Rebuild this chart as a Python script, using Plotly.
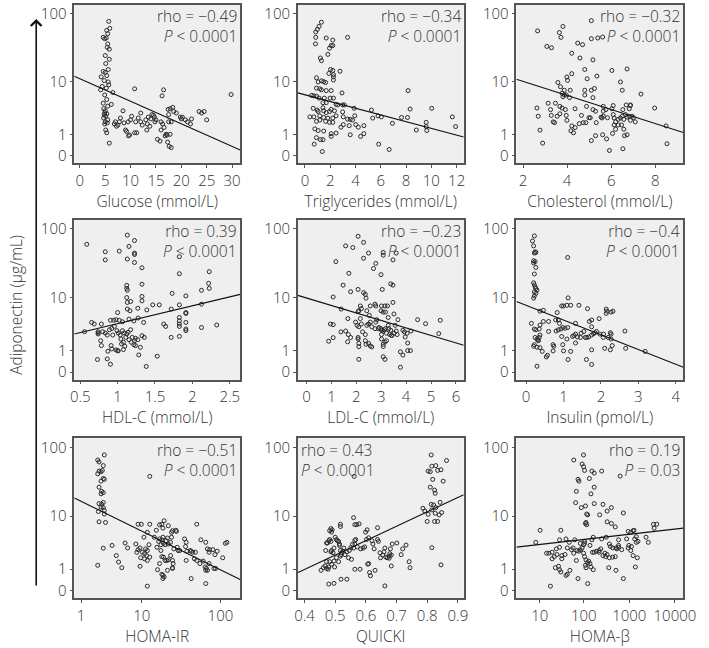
import numpy as np
import plotly.graph_objects as go

# ---------------- data (adiponectin in ug/mL) ----------------
glucose_x = [5.7,5.9,5.3,5.5,4.6,4.9,5.2,5.5,5.4,5.8,5.0,5.8,5.1,5.6,4.6,5.0,4.2,5.3,4.8,5.6,4.4,5.2,5.7,4.1,6.5,4.9,5.3,4.6,6.2,5.5,4.7,5.0,4.9,5.3,4.8,5.1,4.7,5.5,5.0,4.9,5.4,5.1,5.3,5.8,
             7.0,7.5,7.8,6.8,7.2,8.0,8.5,9.0,9.2,9.8,9.6,10.0,10.2,10.8,10.8,11.2,11.0,12.0,11.5,12.0,13.0,13.5,14.0,14.2,14.5,13.8,13.2,14.7,15.0,14.8,15.3,15.8,16.0,16.2,16.5,16.3,16.0,16.6,17.0,16.8,17.2,17.5,17.4,17.8,18.3,18.5,19.0,17.5,18.0,17.8,17.6,18.0,17.3,19.8,20.2,20.8,21.2,20.0,21.8,22.0,23.5,24.0,24.5,25.0,29.8,8.7,9.5,12.3,13.3]
glucose_adip = [78,62,58,52,46,44,45,37,33,31,25,22,19,15.5,14.5,14,12,12.5,10.5,10,8.5,8,9,7.5,6.8,6.2,5.2,4.5,4.3,4.0,3.6,3.3,3.0,2.9,2.8,2.6,2.4,2.2,2.0,1.8,1.9,1.3,1.1,0.5,
                2.0,1.7,2.0,1.8,1.6,2.4,3.3,1.3,1.2,0.95,0.9,2.2,2.6,7.8,1.1,1.1,2.0,3.0,2.4,2.0,2.2,2.5,2.3,2.8,2.7,1.6,1.3,2.5,2.2,2.0,0.7,0.6,2.0,6.0,7.5,1.8,1.3,1.5,1.0,0.9,0.95,2.8,3.5,3.6,3.8,3.2,3.0,2.0,2.0,1.0,0.35,0.3,0.55,2.5,2.5,2.2,2.0,2.3,1.8,2.3,3.2,3.0,3.2,2.2,6.3,1.9,2.0,1.7,1.8]
glucose_fit_x = [-1.1, 31.6]
glucose_fit_adip = [12.2, 0.2]

trig_x = [1.30,1.11,0.98,0.85,0.85,0.83,1.68,2.20,2.20,2.07,1.94,1.81,1.22,1.30,3.37,2.77,2.02,2.20,1.89,2.25,2.25,2.25,0.91,1.04,1.30,1.48,1.63,0.91,1.17,1.30,1.68,2.07,2.93,0.52,0.70,0.91,1.11,1.53,1.99,2.25,1.42,1.68,2.46,2.59,2.98,3.11,1.42,2.07,2.33,2.98,3.89,0.65,0.96,1.04,1.48,1.68,1.94,0.39,0.70,1.17,1.48,1.81,2.20,2.46,3.03,3.37,3.58,3.76,3.94,0.91,1.17,1.63,1.94,2.20,3.03,2.85,3.50,4.02,4.66,0.78,1.04,1.48,2.07,2.07,2.46,3.58,4.40,4.66,0.91,1.22,1.42,0.73,1.37,5.26,5.36,5.78,6.04,5.83,6.66,6.92,7.64,8.11,8.16,8.32,8.81,9.59,9.59,9.64,10.03,11.66,11.92,4.22]
trig_adip = [76,66,60,55,46,37,45,42,35,35,32,26,23,21,46,14.6,15.5,15,13.5,13,12,10.7,11.6,10,10.4,10.1,9.8,8,7.8,7.5,7.3,7.3,6.7,6.1,6.0,5.9,5.5,5.5,5.5,5.5,4.6,4.6,4.3,4.2,4.2,4.2,3.75,3.5,3.3,3.15,3.66,3.66,3.4,3.2,3.3,3.06,3.2,2.53,2.53,2.65,2.46,2.39,2.39,2.65,2.53,2.28,2.25,2.18,2.65,2.05,2.18,2.05,1.95,1.95,1.74,1.52,1.65,1.74,1.65,1.39,1.26,1.22,1.04,0.87,1.08,0.97,0.87,1.04,0.79,0.68,0.68,0.45,0.14,3.4,2.39,2.65,2.53,0.45,0.22,1.86,2.46,2.46,7.3,3.55,1.3,1.95,1.57,1.26,3.66,2.53,1.57,1.52]
trig_fit_x = [-0.57, 12.56]
trig_fit_adip = [6.7, 0.83]

chol_x = [5.10,2.66,3.81,3.65,3.72,3.08,3.29,4.48,4.70,5.39,5.10,5.61,4.21,4.58,5.17,6.03,6.72,4.21,4.80,4.91,5.35,3.99,4.02,3.58,6.42,3.70,6.50,3.87,4.14,4.80,5.10,5.24,3.77,3.87,3.96,7.35,4.80,3.81,4.11,5.17,2.63,3.14,3.47,3.67,3.77,3.92,4.36,4.88,5.17,5.29,5.64,5.76,5.64,6.03,6.09,6.68,6.87,6.82,7.97,2.69,3.25,3.28,3.55,3.96,3.67,3.99,4.65,4.73,5.05,4.99,5.32,5.54,5.58,5.64,5.83,6.09,6.13,6.20,6.32,6.42,6.50,6.57,6.65,6.72,6.82,6.94,7.01,7.09,6.87,3.37,3.43,2.77,4.21,4.36,4.17,4.29,4.55,4.85,6.13,6.20,6.32,6.47,6.57,5.61,6.06,6.60,6.72,5.29,5.10,5.79,2.89,5.92,6.53,8.53,8.49,6.53,6.87]
chol_adip = [80,57,66,54,46,34,32.5,38,36,45,44,46.5,27,23,21.6,15,15.8,13.4,15.5,11.2,12.3,11.9,10.6,9.8,10,8.4,7.4,7.4,7.4,7.4,7.4,7.9,6.6,6.2,6.2,6.4,6.2,5.8,5.6,5.6,3.7,4.5,4.5,3.96,3.7,3.47,3.6,3.96,3.47,3.24,3.96,3.47,3.24,3.6,4.1,4.2,4.1,3.6,3.7,2.6,3.47,2.7,2.6,2.7,2.9,2.15,2.7,1.92,2.43,2.43,1.92,2.5,2.4,2.6,2.43,2.8,2.4,2.0,2.25,2.4,2.6,2.25,2.8,2.5,2.6,2.6,2.43,2.0,2.15,2.0,1.92,1.29,1.63,1.49,1.24,1.1,1.83,1.92,1.71,1.36,1.71,1.71,1.36,0.97,1.06,0.91,0.97,0.91,0.63,0.72,0.5,0.18,0.25,0.47,1.63,3.47,4.2]
chol_fit_x = [1.7, 9.27]
chol_fit_adip = [11.0, 1.12]

hdl_x = [0.587,1.130,0.835,1.022,1.152,1.226,1.226,1.226,0.835,1.130,1.226,1.826,1.826,1.326,2.226,2.217,2.226,1.122,1.122,1.130,1.326,2.122,1.122,1.326,1.730,1.913,1.130,1.174,1.326,1.165,1.130,1.270,1.391,1.470,1.557,1.717,1.826,2.122,1.000,0.904,0.948,0.978,1.022,1.065,1.152,1.217,1.274,0.652,0.687,0.783,1.348,1.617,1.643,1.826,1.826,1.826,1.826,1.913,1.913,1.913,1.913,1.913,2.122,2.326,0.557,0.739,0.739,0.739,
         0.800,0.835,0.861,0.891,0.922,0.957,0.991,1.009,1.035,1.065,1.087,1.122,1.139,1.174,1.196,1.239,1.270,1.326,1.357,1.226,1.239,1.304,
         0.774,0.783,0.870,0.922,0.978,1.000,1.009,0.913,0.730,0.861,0.904,1.078,1.283,1.383,1.530,1.717,1.826,0.935,1.043,1.078,1.109,1.152,1.052,1.096,1.183,1.217]
hdl_adip = [60,81,47,48,56,68,45,43,36,37,33,40,22.7,27.7,24.3,16.4,13.8,15.3,13.8,12.9,15.9,12.9,10,10.4,11.6,10.6,8.4,8.7,8.9,6.2,6.6,6.8,6.4,7.7,7.7,6.6,7.7,7.9,5.8,4.3,4.3,4.4,4.3,4.05,4.5,4.2,4.7,3.95,3.7,3.7,3.95,3.7,3.35,4.8,4.2,3.7,3.35,5.8,5.6,3.95,3.0,2.8,3.2,3.55,2.67,2.67,2.52,2.41,
            2.67,2.52,2.3,2.91,3.08,3.35,2.79,2.52,2.3,2.79,2.52,2.41,2.6,2.91,2.06,1.97,1.84,2.23,2.06,1.75,1.35,1.22,
            1.75,1.35,0.96,1.11,1.04,1.0,0.98,1.35,0.5,0.53,0.29,1.07,0.74,0.2,0.67,2.06,2.16,2.3,1.9,1.61,2.06,1.84,1.48,1.3,1.61,1.42]
hdl_fit_x = [0.42, 2.64]
hdl_fit_adip = [2.41, 11.2]

ldl_x = [2.07,2.29,1.57,1.86,2.49,3.08,3.08,3.60,3.47,1.18,2.29,2.78,2.69,1.70,2.99,1.47,3.38,3.47,1.77,2.07,2.29,2.36,2.39,3.04,1.07,3.47,2.75,2.78,3.01,3.15,3.25,2.16,2.20,2.56,2.42,2.10,2.07,1.39,2.99,3.08,3.17,2.52,2.56,1.66,2.16,2.82,2.78,3.28,3.51,3.67,4.46,4.78,5.31,5.37,0.96,1.07,1.38,1.57,1.97,2.03,2.10,2.20,2.25,2.42,2.49,2.62,2.75,2.88,2.91,2.99,3.01,3.08,3.12,3.17,3.21,3.28,3.30,3.34,3.38,3.43,3.51,3.56,3.60,3.64,3.87,3.93,4.04,4.19,3.96,1.07,0.89,1.68,1.65,1.77,2.07,2.07,2.10,2.10,2.36,2.36,2.39,2.49,2.56,2.62,3.01,3.01,3.08,3.08,3.15,3.21,3.41,2.10,3.08,3.15,3.77,3.77,3.87,4.06,4.06,4.17]
ldl_adip = [78,64,57,54,45,46,42,45,36,34,38,32,27,23,22,15.4,16.1,15.4,12.3,13.3,11.9,11.2,9.8,13.3,10.2,8.4,7.9,7.4,7.4,7.4,7.4,7.4,6.7,7.4,6.2,6.2,6.0,6.6,6.2,5.9,5.9,5.2,4.0,4.6,4.6,4.4,4.0,4.8,5.5,4.4,4.4,3.75,2.46,4.3,3.7,3.6,2.65,2.75,4.0,3.5,3.3,3.7,2.65,3.5,3.7,3.3,3.05,3.05,3.2,3.05,2.85,2.75,2.9,3.05,2.5,3.5,3.05,2.35,2.85,2.25,2.5,3.5,2.75,2.35,2.85,2.65,2.5,2.75,2.1,2.03,1.7,2.35,1.65,2.05,2.05,1.9,1.52,1.27,2.35,1.75,1.45,1.52,1.32,1.25,2.35,1.9,1.45,1.28,1.65,1.75,2.25,0.51,0.64,0.51,0.17,0.92,0.73,1.55,1.0,1.0]
ldl_fit_x = [-0.35, 6.31]
ldl_fit_adip = [10.8, 1.38]

insulin_x = [0.22,0.17,0.20,0.24,0.26,0.22,0.20,0.24,0.20,0.26,0.22,0.20,0.22,0.24,0.26,0.29,0.22,0.26,0.22,0.20,1.11,0.37,0.46,1.12,0.95,1.00,1.09,1.19,1.41,1.64,2.14,2.16,2.27,2.32,2.14,0.83,0.79,0.86,0.89,0.14,0.22,0.26,0.35,0.37,0.46,0.60,1.32,1.69,1.75,1.95,1.75,0.60,0.80,0.86,0.93,0.98,1.04,1.11,1.24,1.28,1.32,1.37,1.47,1.54,1.58,1.62,1.67,1.75,1.80,1.84,1.88,1.97,2.06,2.07,2.19,2.25,2.27,2.27,2.64,3.18,2.66,0.24,0.29,0.31,0.33,0.35,0.37,0.20,0.29,0.37,0.22,0.43,0.57,0.54,0.72,0.74,0.72,0.95,0.98,1.00,1.12,1.19,1.61,1.75,1.75,1.32,0.29,1.09,1.45,2.10,2.25,2.30]
insulin_adip = [79,67,57,47,46,45,35,34,32.5,28,22.5,16.7,15.6,14.5,13.7,13,12.2,11.6,10.6,9.8,39,6.1,6.3,9.9,7.4,7.4,7.6,7.6,7.6,6.7,6.6,6.1,5.9,6.1,5.6,5.8,4.35,4.35,3.8,3.8,3.0,2.9,3.0,3.55,4.1,4.1,3.8,4.1,4.35,4.6,3.3,2.7,2.75,2.9,3.0,3.2,3.1,3.2,2.15,2.25,2.4,2.1,2.5,2.7,2.05,2.05,2.1,2.3,2.45,2.55,2.7,2.4,2.05,2.4,2.05,2.55,2.4,1.9,2.75,0.95,1.15,2.05,1.9,1.8,1.75,2.05,2.3,1.3,1.23,1.2,1.42,0.95,0.72,0.63,1.42,1.3,0.98,2.15,1.42,0.98,0.5,0.95,0.5,0.28,1.05,1.55,0.21,1.9,2.05,1.15,1.05,1.35]
insulin_fit_x = [-0.26, 4.2]
insulin_fit_adip = [8.7, 0.17]

homair_x = [2.84,2.19,2.31,2.73,2.31,2.50,2.63,2.19,2.73,2.84,2.50,2.31,2.56,2.73,2.50,2.31,2.56,2.73,2.50,2.73,2.25,2.84,2.84,2.31,2.97,12.8,2.73,2.19,3.78,4.38,4.74,5.28,5.89,6.41,8.33,8.93,9.89,10.7,11.9,12.8,8.58,8.93,9.50,9.69,10.2,10.9,11.3,11.9,12.5,12.8,9.50,10.9,11.6,11.9,14.7,15.6,17.2,18.4,19.0,19.7,15.9,16.7,17.2,17.9,18.4,19.0,19.3,20.3,20.9,21.7,22.3,23.8,24.5,17.9,18.4,19.3,20.3,21.3,22.3,23.8,25.2,25.2,16.2,17.2,18.4,19.0,19.7,19.0,21.7,25.2,25.7,22.3,24.5,25.2,27.8,28.3,26.2,28.9,29.7,31.1,35.8,36.8,37.5,38.3,42.1,43.3,45.3,48.9,50.8,57.2,65.8,69.0,72.3,73.6,80.8,85.5,91.3,106.7,114.9,120.3,37.5,43.3,47.5,50.8,55.7,61.1,64.6,65.8,67.1,69.0,72.3,83.1,87.1,65.8,11.9]
homair_adip = [78,66,62,55,46,45,47,42,36,35,33,27,23.5,22.5,21.6,15.5,15.2,16.1,13.8,13.5,11.8,12.3,10.8,8.2,8.0,38.6,2.93,1.27,3.3,2.1,1.52,1.1,3.65,2.97,3.5,7.5,7.5,4.6,5.55,7.5,2.45,2.75,2.97,1.89,2.45,2.3,2.85,2.65,3.4,1.95,1.2,1.8,2.1,1.65,4.6,6.0,7.35,7.5,6.5,8.5,3.05,3.9,4.3,3.4,4.15,4.6,3.6,3.4,4.0,4.45,3.5,3.75,4.6,2.65,2.0,1.95,1.65,1.65,1.7,2.1,1.65,1.1,0.97,1.4,0.7,0.65,0.56,0.48,0.93,1.05,1.4,7.1,5.55,5.9,6.0,5.75,2.85,3.05,2.65,2.65,4.3,3.15,3.75,2.57,2.65,2.57,2.45,2.45,7.5,4.15,3.75,2.85,2.45,2.75,2.75,2.2,2.57,1.89,3.6,3.75,1.65,0.48,1.8,1.65,1.4,1.6,1.15,0.93,1.05,0.93,1.4,1.05,1.05,0.26,0.16]
homair_fit_x = [0.65, 175.0]
homair_fit_adip = [18.8, 0.44]

quicki_x = [0.813,0.863,0.815,0.828,0.803,0.810,0.834,0.845,0.818,0.852,0.810,0.824,0.826,0.786,0.792,0.813,0.821,0.828,0.842,0.847,0.839,0.803,0.815,0.826,0.800,0.824,0.834,0.815,0.845,0.562,
            0.454,0.461,0.467,0.472,0.477,0.479,0.472,0.482,0.488,0.498,0.469,0.472,0.475,0.479,0.482,0.486,0.488,0.486,0.493,0.496,0.482,0.486,0.488,0.490,0.500,0.504,0.507,0.511,0.514,0.517,0.517,0.519,0.522,0.514,0.496,0.504,0.511,0.519,0.538,0.517,0.517,0.479,0.496,0.525,0.528,0.532,0.538,0.543,0.546,0.551,0.553,0.556,0.560,0.564,0.564,0.570,0.578,0.560,0.564,0.567,0.572,0.564,0.581,0.583,0.591,0.596,0.599,0.602,0.604,0.609,0.606,0.609,0.612,0.615,0.620,0.623,0.627,0.638,0.638,0.641,0.630,0.646,0.648,0.655,0.659,0.662,0.665,0.670,0.676,0.678,0.680,0.683,0.686,0.683,0.676,0.701,0.715,0.720,0.731,0.741,0.744,0.662]
quicki_adip = [78,65,54,55,46,45,47,48,35,33,27,24.5,22,13.2,12,15.1,14.8,13.5,16.2,11.4,10.5,10.7,12.5,11.1,8.3,8.3,8.3,3.0,1.3,38.6,
               0.93,1.1,1.22,1.05,1.0,1.15,1.55,1.55,1.35,1.15,2.65,3.65,3.65,4.0,4.2,3.9,2.65,2.5,2.4,2.95,5.9,6.4,5.6,6.1,4.6,4.2,4.0,3.9,3.3,2.65,2.05,2.2,2.4,3.5,1.6,1.9,1.55,0.45,0.45,7.5,6.9,0.24,0.27,2.6,2.95,2.2,2.5,1.89,2.65,3.0,1.75,3.45,2.95,4.05,7.4,7.4,7.6,9.5,3.5,4.2,3.1,1.0,1.0,2.85,2.95,3.1,5.6,4.2,6.1,4.5,1.35,1.4,0.8,0.62,4.0,3.5,2.85,6.6,4.2,3.9,0.93,2.4,1.89,2.15,2.5,2.95,1.95,1.89,1.85,2.3,2.85,2.15,3.5,1.22,2.05,3.65,2.2,2.85,3.35,1.55,1.1,0.17]
quicki_fit_x = [0.379, 0.919]
quicki_fit_adip = [0.8, 21.0]

homab_x = [98.6,60,92,99,104,151,170,248,630,74.5,78,133,144,170,68.5,66,88,109,170,265,405,116,122,112,109,116,224,327,327,405,493,742,948,1080,1212,1273,3388,3499,3990,2328,2612,1315,1428,1549,1428,1116,948,1080,1212,1500,1358,8.0,10.2,30.8,28.8,43,47.6,40.2,58,63,84,104,104,99,137,151,162,248,312,367,385,432,581,683,581,874,979,14.5,16.4,19.5,19.5,21.9,25.1,24.3,28.8,32.3,38.3,32.3,23.1,27.3,28.8,30.8,40.2,43,49.2,53.5,60,68.5,71,78,84,92,99,104,112,122,128,137,144,162,156,170,190,217,217,236,265,292,302,327,367,432,493,510,535,581,74.5,122,17.8,742,510,355,112,109]
homab_adip = [78,66,58,53,47,46,43,46,39,35,33,36,21.6,27,23.5,16,13.5,14.3,15.5,15.1,13.5,10.8,10.5,8.0,7.7,7.35,10.5,12,8.2,7.7,6.8,11.2,5.75,5.55,5.9,6.0,7.5,6.5,7.5,4.6,3.75,4.3,4.7,3.9,3.75,3.15,2.97,2.65,2.1,1.89,1.15,3.75,6.0,6.0,4.15,2.97,3.75,4.3,2.97,4.15,3.6,3.9,3.6,3.4,3.3,4.15,4.6,4.3,4.6,3.5,3.15,2.97,4.15,2.75,3.3,4.3,3.3,2.35,2.35,2.45,1.8,2.0,2.21,2.85,3.05,2.1,2.21,1.8,1.1,1.2,0.97,0.83,0.64,0.7,0.93,2.75,2.35,1.65,2.65,2.57,2.75,2.97,2.35,2.0,1.7,1.45,1.6,1.4,1.15,0.97,2.45,2.45,2.57,2.65,2.45,2.85,2.1,2.35,2.0,2.21,1.89,1.95,2.0,2.97,2.85,3.05,0.48,0.26,0.16,0.48,0.93,1.1,1.1,1.27]
homab_fit_x = [2.39, 15240]
homab_fit_adip = [3.07, 6.5]

axis_titles = ["Glucose (mmol/L)", "Triglycerides (mmol/L)", "Cholesterol (mmol/L)",
               "HDL-C (mmol/L)", "LDL-C (mmol/L)", "Insulin (pmol/L)",
               "HOMA-IR", "QUICKI", "HOMA-β"]
rho_values = [-0.49, -0.34, -0.32, 0.39, -0.23, -0.4, -0.51, 0.43, 0.19]
p_labels = ["&lt; 0.0001"] * 8 + ["= 0.03"]
x_ticks = [[0, 5, 10, 15, 20, 25, 30], [0, 2, 4, 6, 8, 10, 12], [2, 4, 6, 8],
           [0.5, 1, 1.5, 2, 2.5], [0, 1, 2, 3, 4, 5, 6], [0, 1, 2, 3, 4],
           [1, 10, 100], [0.4, 0.5, 0.6, 0.7, 0.8, 0.9], [10, 100, 1000, 10000]]
y_ticks = [0, 1, 10, 100]

# ---------------- figure ----------------
def tf(v):
    return np.log10(np.asarray(v, dtype=float) + 1.0)

series = [
    (glucose_x, glucose_adip, glucose_fit_x, glucose_fit_adip),
    (trig_x, trig_adip, trig_fit_x, trig_fit_adip),
    (chol_x, chol_adip, chol_fit_x, chol_fit_adip),
    (hdl_x, hdl_adip, hdl_fit_x, hdl_fit_adip),
    (ldl_x, ldl_adip, ldl_fit_x, ldl_fit_adip),
    (insulin_x, insulin_adip, insulin_fit_x, insulin_fit_adip),
    (homair_x, homair_adip, homair_fit_x, homair_fit_adip),
    (quicki_x, quicki_adip, quicki_fit_x, quicki_fit_adip),
    (homab_x, homab_adip, homab_fit_x, homab_fit_adip),
]
log_x = [False, False, False, False, False, False, True, False, True]
x_ranges = [[-1.1, 31.6], [-0.57, 12.56], [1.7, 9.27], [0.42, 2.64], [-0.35, 6.31],
            [-0.26, 4.2], [0.217, 2.246], [0.378, 0.919], [0.53, 4.183]]
col_dom = [[72 / 709, 242 / 709], [301 / 709, 471 / 709], [525 / 709, 696 / 709]]
row_dom = [[1 - 162 / 648, 1 - 3 / 648], [1 - 380 / 648, 1 - 219 / 648], [1 - 600 / 648, 1 - 439 / 648]]

FONT = "Open Sans"
TXT = "#333333"
AX = "#555555"
W = 300

fig = go.Figure()
layout = {}
annotations = []
for i, (xs, ys, fx, fy) in enumerate(series):
    n = i + 1
    xa = "x" if n == 1 else f"x{n}"
    ya = "y" if n == 1 else f"y{n}"
    px = tf(xs) if log_x[i] else np.asarray(xs, dtype=float)
    pfx = tf(fx) if log_x[i] else np.asarray(fx, dtype=float)
    fig.add_trace(go.Scatter(x=px, y=tf(ys), mode="markers", xaxis=xa, yaxis=ya,
                             marker=dict(symbol="circle-open", size=4, color="#2a2a2a",
                                         line=dict(width=1)),
                             showlegend=False, hoverinfo="skip"))
    fig.add_trace(go.Scatter(x=pfx, y=tf(fy), mode="lines", xaxis=xa, yaxis=ya,
                             line=dict(color="#111111", width=1.1),
                             showlegend=False, hoverinfo="skip"))
    r, c = divmod(i, 3)
    tv = tf(x_ticks[i]) if log_x[i] else x_ticks[i]
    layout["xaxis" if n == 1 else f"xaxis{n}"] = dict(
        domain=col_dom[c], anchor=ya, range=x_ranges[i],
        tickmode="array", tickvals=list(tv), ticktext=[f"{t:g}" for t in x_ticks[i]],
        ticks="outside", ticklen=3, tickcolor=AX, tickwidth=1.2,
        showline=True, linecolor=AX, linewidth=1.5, mirror=True,
        showgrid=False, zeroline=False,
        tickfont=dict(family=FONT, size=15, color=TXT, weight=W),
        title=dict(text=axis_titles[i], standoff=2,
                   font=dict(family=FONT, size=15.5, color=TXT, weight=W)))
    layout["yaxis" if n == 1 else f"yaxis{n}"] = dict(
        domain=row_dom[r], anchor=xa, range=[-0.105, 2.13],
        tickmode="array", tickvals=list(tf(y_ticks)), ticktext=[str(t) for t in y_ticks],
        ticks="outside", ticklen=3, tickcolor=AX, tickwidth=1.2,
        showline=True, linecolor=AX, linewidth=1.5, mirror=True,
        showgrid=False, zeroline=False,
        tickfont=dict(family=FONT, size=15, color=TXT, weight=W))
    rho_txt = f"rho = {rho_values[i]:g}".replace("-", "−")
    left = (i == 7)
    annotations.append(dict(
        xref=f"{xa} domain", yref=f"{ya} domain",
        x=0.01 if left else 0.995, y=1.01, xanchor="left" if left else "right", yanchor="top",
        align="left" if left else "right", showarrow=False,
        text=f"{rho_txt}<br><i>P</i> {p_labels[i]}",
        font=dict(family=FONT, size=15.5, color=TXT, weight=W)))

annotations.append(dict(xref="paper", yref="paper", x=12 / 709, y=1 - 305 / 648,
                        text="Adiponectin (μg/mL)", textangle=-90, showarrow=False,
                        xanchor="center", yanchor="middle",
                        font=dict(family=FONT, size=15.5, color=TXT, weight=W)))
annotations.append(dict(xref="paper", yref="paper", x=33 / 709, y=1 - 17 / 648,
                        ax=0, ay=568, axref="pixel", ayref="pixel", text="",
                        showarrow=True, arrowhead=4, arrowsize=1.3, arrowwidth=1.6,
                        arrowcolor="#111111"))

fig.update_layout(width=709, height=648, autosize=False, margin=dict(l=0, r=0, t=0, b=0),
                  paper_bgcolor="white", plot_bgcolor="#efefef",
                  annotations=annotations, **layout)
fig.write_html("out.html",
               config={"displayModeBar": False, "responsive": False},
               post_script="document.body.style.margin='0px';document.body.style.padding='0px';"
                           "document.documentElement.style.overflow='hidden';")
